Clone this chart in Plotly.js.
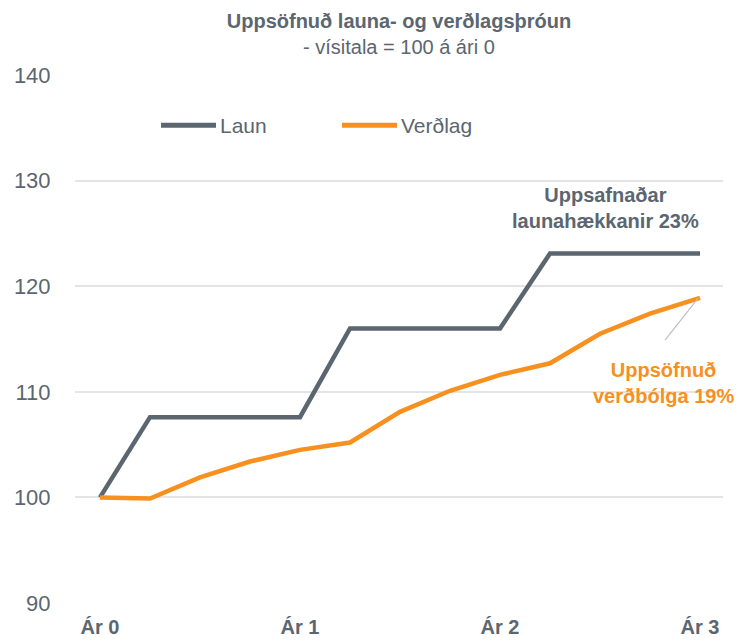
<!DOCTYPE html>
<html>
<head>
<meta charset="utf-8">
<script src="https://cdn.plot.ly/plotly-3.0.1.min.js"></script>
<style>html,body{margin:0;padding:0;background:#fff}#chart{width:746px;height:643px}</style>
</head>
<body>
<div id="chart"></div>
<script>
// Quarters from Ár 0 to Ár 3
const quarters = [0,1,2,3,4,5,6,7,8,9,10,11,12];
const tickPositions = [0,4,8,12];
const tickLabels = ["Ár 0","Ár 1","Ár 2","Ár 3"];
const seriesNames = ["Laun","Verðlag"];
const laun = [100,107.6,107.6,107.6,107.6,116.0,116.0,116.0,116.0,123.1,123.1,123.1,123.1];
const verdlag = [100,99.9,101.9,103.4,104.5,105.2,108.1,110.1,111.6,112.7,115.5,117.4,118.9];
const yTicks = [90,100,110,120,130,140];

const GRAY = '#5b6670';
const ORANGE = '#f7901e';
const FONT = 'Liberation Sans, Arial, sans-serif';

const traces = [
  {x: quarters, y: laun, name: seriesNames[0], type: 'scatter', mode: 'lines',
   line: {color: GRAY, width: 4.5}, showlegend: false},
  {x: quarters, y: verdlag, name: seriesNames[1], type: 'scatter', mode: 'lines',
   line: {color: ORANGE, width: 4.5}, showlegend: false}
];

const lastIdx = quarters.length - 1;
const legY = 0.905;

const layout = {
  width: 746, height: 643,
  margin: {l: 75, r: 23, t: 75, b: 40},
  paper_bgcolor: '#fff', plot_bgcolor: '#fff',
  font: {family: FONT, color: GRAY},
  title: {
    text: '<b>Uppsöfnuð launa- og verðlagsþróun</b>',
    font: {size: 20, color: GRAY, family: FONT},
    x: 0.5, xref: 'paper', xanchor: 'center',
    y: 1 - 21/643, yref: 'container', yanchor: 'middle'
  },
  xaxis: {
    range: [-0.5, 12.46],
    tickmode: 'array', tickvals: tickPositions, ticktext: tickLabels,
    tickfont: {size: 20, color: GRAY, family: FONT, weight: 'bold'},
    showgrid: false, zeroline: false, showline: false,
    ticks: 'outside', ticklen: 6, tickcolor: 'rgba(0,0,0,0)'
  },
  yaxis: {
    range: [90, 140],
    tickmode: 'array', tickvals: yTicks,
    tickfont: {size: 22, color: GRAY, family: FONT},
    showgrid: true, gridcolor: '#e4e4e4', gridwidth: 2,
    zeroline: false, showline: false,
    ticks: 'outside', ticklen: 19, tickcolor: 'rgba(0,0,0,0)'
  },
  showlegend: false,
  annotations: [
    {x: 0.5, y: 1 + 28/528, xref: 'paper', yref: 'paper', showarrow: false,
     text: '- vísitala = 100 á ári 0', xanchor: 'center', yanchor: 'middle',
     font: {size: 20, color: GRAY, family: FONT}},
    {x: (220-75)/648, y: legY, xref: 'paper', yref: 'paper', showarrow: false,
     text: seriesNames[0], xanchor: 'left', yanchor: 'middle', xshift: -2,
     font: {size: 21, color: GRAY, family: FONT}},
    {x: (401-75)/648, y: legY, xref: 'paper', yref: 'paper', showarrow: false,
     text: seriesNames[1], xanchor: 'left', yanchor: 'middle', xshift: -2,
     font: {size: 21, color: GRAY, family: FONT}},
    {x: 10.1, y: 127.4, xref: 'x', yref: 'y', showarrow: false,
     text: '<b>Uppsafnaðar<br>launahækkanir 23%</b>', align: 'center',
     xanchor: 'center', yanchor: 'middle',
     font: {size: 20, color: GRAY, family: FONT}},
    {x: 11.27, y: 110.85, xref: 'x', yref: 'y', showarrow: false,
     text: '<b>Uppsöfnuð<br>verðbólga 19%</b>', align: 'center',
     xanchor: 'center', yanchor: 'middle',
     font: {size: 20, color: ORANGE, family: FONT}}
  ],
  shapes: [
    {type: 'line', xref: 'paper', yref: 'paper',
     x0: (161-75)/648, x1: (216-75)/648, y0: legY, y1: legY,
     line: {color: GRAY, width: 5}},
    {type: 'line', xref: 'paper', yref: 'paper',
     x0: (342-75)/648, x1: (397-75)/648, y0: legY, y1: legY,
     line: {color: ORANGE, width: 5}},
    {type: 'line', xref: 'x', yref: 'y', x0: 11.3, y0: 114.9,
     x1: quarters[lastIdx] - 0.04, y1: verdlag[lastIdx] - 0.05,
     line: {color: '#bcc0c4', width: 1.2}}
  ]
};

Plotly.newPlot('chart', traces, layout, {displayModeBar: false, staticPlot: true});
</script>
</body>
</html>
